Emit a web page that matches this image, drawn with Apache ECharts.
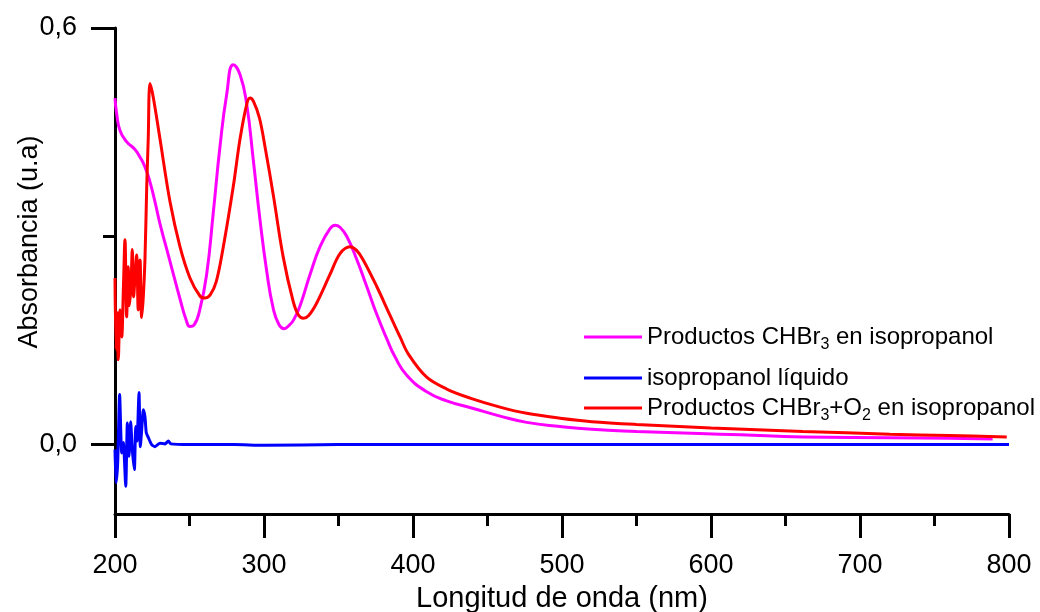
<!DOCTYPE html>
<html>
<head>
<meta charset="utf-8">
<script src="https://cdn.jsdelivr.net/npm/echarts@6/dist/echarts.min.js"></script>
<style>
html,body{margin:0;padding:0;background:#fff;}
#chart{width:1040px;height:612px;}
</style>
</head>
<body>
<div id="chart"></div>
<script>
// Series names (legend labels)
var seriesNames = [
  'Productos CHBr3 en isopropanol',
  'isopropanol líquido',
  'Productos CHBr3+O2 en isopropanol'
];

// Axis ticks
var xTicks = [200, 300, 400, 500, 600, 700, 800];
var yLabelValues = [0, 0.6];
var yMinorValues = [0.3];

// Magenta: Productos CHBr3 en isopropanol  [wavelength nm, absorbance]
var chbr3 = [
  [200,0.499],[201.1,0.477],[203.4,0.452],[207.9,0.436],[213.4,0.425],[216.8,0.414],
  [220.1,0.400],[223.5,0.378],[226.8,0.350],[230.2,0.318],[236.9,0.264],[243.6,0.210],
  [248,0.178],[250.3,0.170],[253,0.172],[257,0.195],[261.5,0.245],[266,0.335],[270.5,0.430],
  [275,0.505],[279.4,0.547],[283.9,0.533],[288.4,0.490],[292.8,0.410],[297.3,0.324],
  [301.8,0.250],[306.2,0.196],[310,0.173],[313.5,0.167],[317,0.172],[320,0.180],
  [324.2,0.200],[330.9,0.245],[337.6,0.285],[344.3,0.311],[347.7,0.316],[351,0.313],
  [355.5,0.300],[362.2,0.267],[368.9,0.228],[375.6,0.188],[382.3,0.153],[388,0.126],
  [395.8,0.100],[409.2,0.076],[422.6,0.063],[440.5,0.052],[458.4,0.041],[476.3,0.032],
  [498.7,0.026],[520,0.022],[550,0.019],[592,0.016],[620,0.014],[661.7,0.011],
  [720,0.010],[760,0.009],[789,0.008]
];

// Blue: isopropanol líquido
var isoprop = [
  [200,-0.007],[200.7,-0.055],[201.8,-0.026],[203.1,0.072],[204.5,-0.012],[205.6,0.003],
  [207.2,-0.060],[208.3,0.031],[209.4,-0.017],[210.5,0.033],[211.6,-0.007],[213,-0.036],
  [213.9,0.026],[214.8,0.005],[216.1,0.075],[217,-0.003],[217.9,0.021],[219,0.050],
  [220.1,0.040],[221,0.017],[222.4,0.010],[224.6,0.000],[226.8,-0.003],[230.2,0.002],
  [233.6,0.001],[235.8,0.005],[237.5,0.001],[250,0.000],[280,0.000],[300,-0.001],
  [350,0.000],[400,0.000],[450,0.000],[500,0.000],[550,0.000],[600,0.000],
  [650,0.000],[700,0.000],[750,0.000],[800,0.000]
];

// Red: Productos CHBr3+O2 en isopropanol
var chbr3o2 = [
  [200,0.240],[200.7,0.137],[201.5,0.190],[202.2,0.122],[203.4,0.194],[204.5,0.155],
  [205.6,0.223],[206.7,0.295],[207.8,0.184],[208.9,0.256],[209.6,0.200],[210.7,0.227],
  [211.6,0.281],[212.5,0.213],[213.4,0.240],[214.5,0.273],[215.6,0.194],[216.8,0.266],
  [217.9,0.183],[219,0.213],[220.1,0.266],[221.3,0.372],[222.3,0.440],[223.5,0.520],
  [225.7,0.500],[230.2,0.440],[236.9,0.350],[243.6,0.285],[250.3,0.240],[257,0.214],
  [260.4,0.211],[264,0.216],[268,0.235],[272.7,0.285],[279.4,0.372],[283.9,0.440],[288.4,0.490],
  [290.6,0.499],[293,0.494],[297,0.470],[301,0.425],[306.2,0.360],[312.9,0.270],[319.7,0.205],
  [323,0.187],[326.4,0.182],[330,0.186],[335.4,0.204],[344.3,0.245],[351,0.275],[357.7,0.285],
  [362,0.280],[366.6,0.266],[375.6,0.228],[384.6,0.186],[391.3,0.155],[397,0.130],[409.2,0.097],
  [422.6,0.080],[438.3,0.067],[458.4,0.054],[476.3,0.045],[498.7,0.038],[520,0.033],
  [550,0.029],[600,0.024],[661.7,0.019],[720,0.015],[760,0.013],[798.5,0.011]
];

var seriesData = [chbr3, isoprop, chbr3o2];
var seriesColors = ['#ff00ff', '#0000ff', '#ff0000'];
var seriesSmooth = [0.5, 0.2, 0.35];

var legendText = {
  'Productos CHBr3 en isopropanol': 'Productos CHBr{sub|3} en isopropanol',
  'isopropanol líquido': 'isopropanol líquido',
  'Productos CHBr3+O2 en isopropanol': 'Productos CHBr{sub|3}+O{sub|2} en isopropanol'
};

var FONT = '"Liberation Sans", Arial, sans-serif';
var legendTops = [320, 361, 391];

var chart = echarts.init(document.getElementById('chart'), null, {renderer: 'canvas'});

var legends = seriesNames.map(function (n, i) {
  return {
    data: [n],
    left: 579,
    top: legendTops[i],
    itemWidth: 58,
    itemHeight: 3,
    itemGap: 6,
    icon: 'rect',
    selectedMode: false,
    formatter: function (name) { return legendText[name]; },
    textStyle: {
      fontFamily: FONT,
      fontSize: 24,
      color: '#000',
      rich: {
        sub: { fontSize: 16, fontFamily: FONT, color: '#000', padding: [16, 0, 0, 0] }
      }
    }
  };
});

var series = seriesNames.map(function (n, i) {
  return {
    name: n,
    type: 'line',
    data: seriesData[i],
    showSymbol: false,
    symbol: 'none',
    smooth: seriesSmooth[i],
    clip: true,
    lineStyle: { color: seriesColors[i], width: 3 },
    itemStyle: { color: seriesColors[i] },
    animation: false
  };
});

chart.setOption({
  backgroundColor: '#ffffff',
  animation: false,
  grid: { left: 115, right: 31, top: 28, bottom: 98, containLabel: false, outerBoundsMode: 'none' },
  legend: legends,
  xAxis: {
    type: 'value',
    min: xTicks[0],
    max: xTicks[xTicks.length - 1],
    interval: 100,
    name: 'Longitud de onda (nm)',
    nameLocation: 'middle',
    nameGap: 70,
    nameMoveOverlap: false,
    nameTextStyle: { fontFamily: FONT, fontSize: 29, color: '#000' },
    axisLine: { show: true, onZero: false, lineStyle: { color: '#000', width: 3 } },
    axisTick: { show: true, length: 24, lineStyle: { color: '#000', width: 3 } },
    minorTick: { show: true, splitNumber: 2, length: 12, lineStyle: { color: '#000', width: 3 } },
    axisLabel: { fontFamily: FONT, fontSize: 27, color: '#000', margin: 38 },
    splitLine: { show: false }
  },
  yAxis: [{
    type: 'value',
    min: -0.1,
    max: 0.6,
    position: 'left',
    name: 'Absorbancia (u.a)',
    nameLocation: 'middle',
    nameGap: 72,
    nameMoveOverlap: false,
    nameTextStyle: { fontFamily: FONT, fontSize: 27, color: '#000', padding: [0, 0, 0, 58] },
    axisLine: { show: true, onZero: false, lineStyle: { color: '#000', width: 3 } },
    axisTick: { show: true, length: 24, customValues: yLabelValues, lineStyle: { color: '#000', width: 3 } },
    axisLabel: {
      fontFamily: FONT, fontSize: 27, color: '#000', margin: 38,
      customValues: yLabelValues,
      formatter: function (v) { return v.toFixed(1).replace('.', ','); }
    },
    splitLine: { show: false }
  }, {
    type: 'value',
    min: -0.1,
    max: 0.6,
    position: 'left',
    offset: 0,
    axisLine: { show: false },
    axisTick: { show: true, length: 12, customValues: yMinorValues, lineStyle: { color: '#000', width: 3 } },
    axisLabel: { show: false, customValues: yMinorValues },
    splitLine: { show: false }
  }],
  series: series
});
</script>
</body>
</html>
